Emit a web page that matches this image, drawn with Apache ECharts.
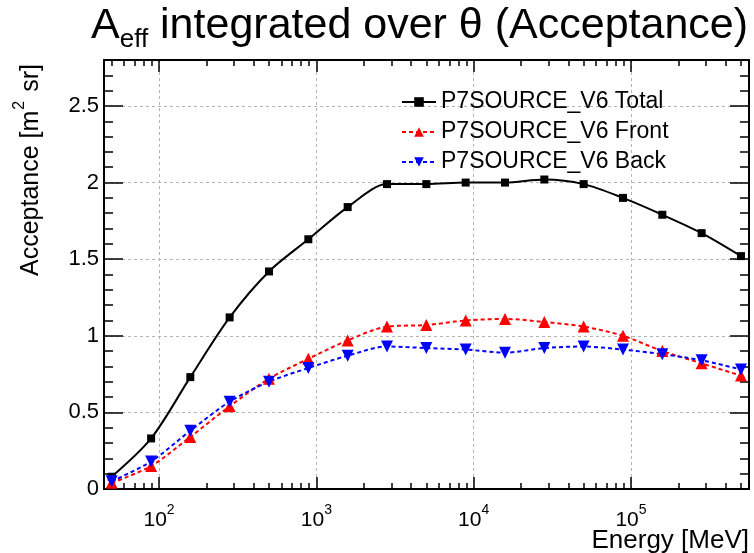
<!DOCTYPE html>
<html>
<head>
<meta charset="utf-8">
<script src="https://cdn.jsdelivr.net/npm/echarts@6/dist/echarts.min.js"></script>
<style>
html, body { margin: 0; padding: 0; background: #fff; }
#main { width: 754px; height: 553px; }
</style>
</head>
<body>
<div id="main"></div>
<script>
// energy bins [MeV] and acceptance [m^2 sr]
var energies = [50, 89, 158, 281, 500, 889, 1581, 2812, 5000, 8891, 15811, 28117, 50000, 88914, 158114, 281171, 500000];
var totalVals = [0.08, 0.33, 0.73, 1.12, 1.42, 1.63, 1.84, 1.99, 1.99, 2.00, 2.00, 2.02, 1.99, 1.90, 1.79, 1.67, 1.52];
var frontVals = [0.04, 0.15, 0.34, 0.54, 0.72, 0.85, 0.97, 1.06, 1.07, 1.10, 1.11, 1.09, 1.06, 1.00, 0.90, 0.82, 0.74];
var backVals = [0.05, 0.18, 0.38, 0.57, 0.70, 0.79, 0.87, 0.93, 0.92, 0.91, 0.89, 0.92, 0.93, 0.91, 0.88, 0.84, 0.78];
var seriesNames = ['P7SOURCE_V6 Total', 'P7SOURCE_V6 Front', 'P7SOURCE_V6 Back'];
var decades = [2, 3, 4, 5];               // labelled powers of ten
var yMajor = [0, 0.5, 1, 1.5, 2, 2.5];

var FONT = 'Liberation Sans';
var xMin = 1.65, xMax = 5.75;             // log10(E) range of the frame
var yMin = 0, yMax = 2.8;

// minor ticks: 2..9 x 10^n, in log space
var xMinor = [];
for (var d = 1; d <= 5; d++) {
    for (var m = 2; m <= 9; m++) {
        var lv = Math.log10(m * Math.pow(10, d));
        if (lv > xMin && lv < xMax) xMinor.push(lv);
    }
}
var yMinor = [];
for (var k = 1; k < 28; k++) {
    if (k % 5 != 0) yMinor.push(k / 10);
}

function toPts(vals) {
    return energies.map(function (e, i) { return [Math.log10(e), vals[i]]; });
}

function xAx(pos, ticks, len, opts) {
    var a = {
        type: 'value', position: pos, min: xMin, max: xMax,
        axisLine: { show: true, onZero: false, lineStyle: { color: '#000', width: 2 } },
        axisTick: { show: true, inside: true, length: len, customValues: ticks, lineStyle: { color: '#000', width: 1.5 } },
        axisLabel: { show: false },
        splitLine: { show: false }
    };
    return Object.assign(a, opts || {});
}
function yAx(pos, ticks, len, opts) {
    var a = {
        type: 'value', position: pos, min: yMin, max: yMax,
        axisLine: { show: true, onZero: false, lineStyle: { color: '#000', width: 2 } },
        axisTick: { show: true, inside: true, length: len, customValues: ticks, lineStyle: { color: '#000', width: 1.5 } },
        axisLabel: { show: false },
        splitLine: { show: false }
    };
    return Object.assign(a, opts || {});
}

var gridLine = { show: true, lineStyle: { color: '#b4b4b4', width: 1, type: [3, 3] } };

var myChart = echarts.init(document.getElementById('main'));
var option = {
    backgroundColor: '#fff',
    animation: false,
    title: {
        text: '{a|A}{s|eff}{a| integrated over θ (Acceptance)}',
        left: 86,
        top: 8,
        textStyle: {
            fontWeight: 'normal',
            rich: {
                a: { fontFamily: FONT, fontWeight: 'normal', fontSize: 43, lineHeight: 40, padding: [0, 0, 14, 0], color: '#000' },
                s: { fontFamily: FONT, fontWeight: 'normal', fontSize: 26, lineHeight: 26, verticalAlign: 'bottom', color: '#000' }
            }
        }
    },
    grid: { left: 104, right: 5, top: 60, bottom: 64, containLabel: false },
    legend: {
        orient: 'vertical',
        left: 396,
        top: 85,
        itemWidth: 34,
        itemHeight: 12,
        itemGap: 6,
        data: seriesNames,
        textStyle: { fontFamily: FONT, fontSize: 23, lineHeight: 24, color: '#000' }
    },
    xAxis: [
        xAx('bottom', xMinor, 6),
        xAx('bottom', decades, 12, {
            axisLabel: {
                show: true, customValues: decades, margin: 14,
                formatter: function (v) { return '{b|10}{s|' + Math.round(v) + '}'; },
                rich: {
                    b: { fontFamily: FONT, fontSize: 21, lineHeight: 28, verticalAlign: 'bottom', color: '#000' },
                    s: { fontFamily: FONT, fontSize: 14, lineHeight: 14, verticalAlign: 'top', color: '#000' }
                }
            },
            splitLine: gridLine
        }),
        xAx('top', xMinor, 6),
        xAx('top', decades, 12)
    ],
    yAxis: [
        yAx('left', yMajor, 19, {
            axisLabel: {
                show: true, customValues: yMajor, margin: 5,
                fontFamily: FONT, fontSize: 22, color: '#000'
            },
            splitLine: gridLine
        }),
        yAx('left', yMinor, 9),
        yAx('right', yMajor, 19),
        yAx('right', yMinor, 9)
    ],
    graphic: [
        {
            type: 'text', x: 28, y: 170, rotation: Math.PI / 2,
            style: {
                text: '{a|Acceptance [m}{s|2}{a| sr]}',
                align: 'center', verticalAlign: 'middle',
                textAlign: 'center', textVerticalAlign: 'middle',
                rich: {
                    a: { fontFamily: FONT, fontSize: 25, lineHeight: 32, verticalAlign: 'bottom', fill: '#000' },
                    s: { fontFamily: FONT, fontSize: 16, lineHeight: 16, verticalAlign: 'top', padding: [0, 2, 0, 1], fill: '#000' }
                }
            }
        },
        {
            type: 'text', x: 749, y: 541,
            style: {
                text: 'Energy [MeV]',
                font: '26px "Liberation Sans"',
                align: 'right', verticalAlign: 'middle',
                textAlign: 'right', textVerticalAlign: 'middle',
                fill: '#000'
            }
        }
    ],
    series: [
        {
            name: seriesNames[0], type: 'line', smooth: 0.3,
            symbol: 'rect', symbolSize: 8,
            lineStyle: { color: '#000', width: 2 },
            itemStyle: { color: '#000' },
            data: toPts(totalVals)
        },
        {
            name: seriesNames[1], type: 'line', smooth: 0.3,
            symbol: 'triangle', symbolSize: 12,
            lineStyle: { color: '#ff0000', width: 2, type: [4, 3] },
            itemStyle: { color: '#ff0000' },
            data: toPts(frontVals)
        },
        {
            name: seriesNames[2], type: 'line', smooth: 0.3,
            symbol: 'triangle', symbolRotate: 180, symbolSize: 12,
            lineStyle: { color: '#0000ff', width: 2, type: [4, 3] },
            itemStyle: { color: '#0000ff' },
            data: toPts(backVals)
        }
    ]
};
myChart.setOption(option);
</script>
</body>
</html>
